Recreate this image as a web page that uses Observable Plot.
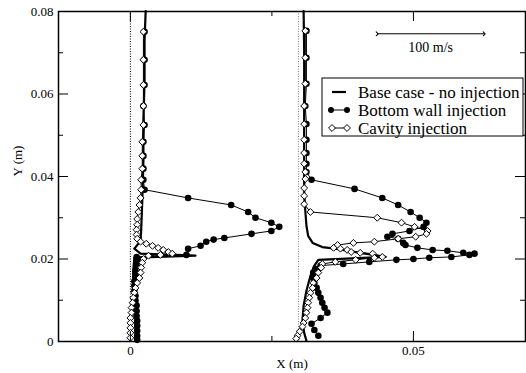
<!DOCTYPE html>
<html><head><meta charset="utf-8">
<script src="https://cdn.jsdelivr.net/npm/d3@7"></script>
<script src="https://cdn.jsdelivr.net/npm/@observablehq/plot@0.6"></script>
<style>body{margin:0;background:#fff} svg{display:block} svg text{font-family:"Liberation Serif", "DejaVu Serif", serif !important;}</style>
</head><body><div id="chart"></div>
<script>
// Station reference positions (m)
const stations = [0, 0.0297];
const seriesNames = ["Base case - no injection", "Bottom wall injection", "Cavity injection"];
const xTickLabels = [0, 0.05];
const xMinorTicks = [0.025];
const yTickLabels = [0, 0.02, 0.04, 0.06, 0.08];
const yMinorTicks = [0.01, 0.03, 0.05, 0.07];
const scaleBar = {x1: 0.0436, x2: 0.0625, y: 0.0746, label: "100 m/s"};

// Station 1 (X = 0) profiles: [X (m), Y (m)]
const base1 = [[0.0027,0.0801],[0.0025,0.0729],[0.0025,0.0632],[0.0023,0.0535],[0.0023,0.0438],[0.0021,0.0341],[0.0019,0.0268],[0.0018,0.0244],[0.0007,0.0225],[0.0018,0.0213],[0.0115,0.0208],[0.0007,0.0203],[0.0005,0.0171],[0.0005,0.0123],[0.0007,0.0074],[0.0009,0.0038],[0.0009,0.0002]];
const bottom1 = [[0.0025,0.0751],[0.0025,0.0683],[0.0025,0.0622],[0.0023,0.0571],[0.0025,0.0525],[0.0023,0.0484],[0.0023,0.0450],[0.0023,0.0419],[0.0023,0.0392],[0.0025,0.0368],[0.0102,0.0348],[0.0178,0.0331],[0.0208,0.0314],[0.0221,0.0300],[0.0249,0.0288],[0.0263,0.0278],[0.0249,0.0268],[0.0214,0.0261],[0.0166,0.0251],[0.0147,0.0247],[0.0134,0.0242],[0.0124,0.0232],[0.0102,0.0225],[0.0099,0.0210],[0.0011,0.0205],[0.0012,0.0196],[0.0011,0.0184],[0.0009,0.0171],[0.0009,0.0159],[0.0007,0.0146],[0.0007,0.0135],[0.0007,0.0123],[0.0009,0.0111],[0.0009,0.0099],[0.0011,0.0087],[0.0011,0.0074],[0.0011,0.0062],[0.0012,0.0050],[0.0012,0.0038],[0.0012,0.0026],[0.0012,0.0014],[0.0012,0.0004]];
const cavity1 = [[0.0023,0.0751],[0.0023,0.0683],[0.0023,0.0622],[0.0023,0.0571],[0.0023,0.0525],[0.0021,0.0484],[0.0021,0.0450],[0.0021,0.0419],[0.0019,0.0392],[0.0019,0.0368],[0.0018,0.0348],[0.0016,0.0331],[0.0014,0.0314],[0.0012,0.0297],[0.0012,0.0283],[0.0011,0.0271],[0.0011,0.0259],[0.0012,0.0249],[0.0018,0.0242],[0.0028,0.0237],[0.0039,0.0232],[0.0049,0.0227],[0.0058,0.0222],[0.0067,0.0217],[0.0074,0.0213],[0.0053,0.0210],[0.0032,0.0208],[0.0023,0.0200],[0.0021,0.0191],[0.0019,0.0179],[0.0018,0.0167],[0.0016,0.0154],[0.0012,0.0142],[0.0009,0.0130],[0.0007,0.0118],[0.0005,0.0106],[0.0004,0.0094],[0.0002,0.0082],[0.0002,0.0070],[0.0000,0.0057],[0.0000,0.0045],[0.0000,0.0033],[0.0000,0.0021],[0.0000,0.0009]];

// Station 2 (X = 0.0297) profiles
const base2 = [[0.0306,0.0801],[0.0307,0.0705],[0.0307,0.0584],[0.0307,0.0462],[0.0307,0.0365],[0.0309,0.0317],[0.0311,0.0281],[0.0314,0.0256],[0.0322,0.0239],[0.0339,0.0229],[0.0362,0.0225],[0.0406,0.0215],[0.0451,0.0205],[0.0332,0.0198],[0.0325,0.0184],[0.0318,0.0159],[0.0311,0.0123],[0.0306,0.0087],[0.0304,0.0050],[0.0307,0.0021],[0.0311,0.0002]];
const bottom2 = [[0.0311,0.0753],[0.0311,0.0688],[0.0311,0.0625],[0.0309,0.0571],[0.0311,0.0527],[0.0311,0.0489],[0.0311,0.0457],[0.0311,0.0431],[0.0311,0.0411],[0.0320,0.0392],[0.0396,0.0370],[0.0445,0.0348],[0.0473,0.0331],[0.0495,0.0314],[0.0511,0.0300],[0.0523,0.0288],[0.0518,0.0278],[0.0493,0.0268],[0.0463,0.0261],[0.0454,0.0254],[0.0473,0.0249],[0.0482,0.0239],[0.0486,0.0234],[0.0507,0.0227],[0.0534,0.0222],[0.0560,0.0220],[0.0588,0.0215],[0.0608,0.0213],[0.0599,0.0210],[0.0567,0.0205],[0.0528,0.0203],[0.0500,0.0200],[0.0470,0.0198],[0.0422,0.0193],[0.0376,0.0188],[0.0336,0.0184],[0.0327,0.0176],[0.0323,0.0167],[0.0323,0.0154],[0.0325,0.0142],[0.0329,0.0130],[0.0332,0.0118],[0.0336,0.0106],[0.0339,0.0094],[0.0343,0.0082],[0.0348,0.0070],[0.0336,0.0057],[0.0320,0.0043],[0.0325,0.0028],[0.0332,0.0014]];
const cavity2 = [[0.0309,0.0753],[0.0309,0.0688],[0.0309,0.0625],[0.0307,0.0571],[0.0307,0.0527],[0.0307,0.0489],[0.0307,0.0457],[0.0307,0.0431],[0.0309,0.0411],[0.0309,0.0394],[0.0307,0.0372],[0.0307,0.0353],[0.0307,0.0333],[0.0318,0.0314],[0.0436,0.0300],[0.0479,0.0288],[0.0502,0.0278],[0.0525,0.0268],[0.0523,0.0261],[0.0504,0.0254],[0.0473,0.0249],[0.0431,0.0242],[0.0394,0.0239],[0.0366,0.0234],[0.0359,0.0227],[0.0371,0.0225],[0.0383,0.0222],[0.0390,0.0217],[0.0406,0.0215],[0.0428,0.0213],[0.0445,0.0205],[0.0431,0.0203],[0.0398,0.0198],[0.0362,0.0193],[0.0339,0.0188],[0.0337,0.0179],[0.0332,0.0167],[0.0329,0.0154],[0.0323,0.0142],[0.0322,0.0130],[0.0318,0.0118],[0.0316,0.0106],[0.0314,0.0094],[0.0313,0.0082],[0.0311,0.0070],[0.0309,0.0057],[0.0306,0.0045],[0.0304,0.0036],[0.0299,0.0024],[0.0295,0.0014],[0.0293,0.0007]];

const toRows = (arr, station) => arr.map(([x, y]) => ({x, y, station}));
const base = [...toRows(base1, 1), ...toRows(base2, 2)];
const bottom = [...toRows(bottom1, 1), ...toRows(bottom2, 2)];
const cavity = [...toRows(cavity1, 1), ...toRows(cavity2, 2)];

const W = 526, H = 373, ML = 58, MR = 1, MT = 11, MB = 32;
const PH = H - MT - MB, PW = W - ML - MR;
const fmt = d => String(+d.toFixed(2));
const SERIF = "Liberation Serif";

const chart = Plot.plot({
  width: W, height: H, marginLeft: ML, marginRight: MR, marginTop: MT, marginBottom: MB,
  style: `font-family: '${SERIF}', serif; font-size: 13px; background: #fff; color: #000;`,
  x: {domain: [-0.0127, 0.0698]},
  y: {domain: [0, 0.08]},
  marks: [
    Plot.ruleX([stations[0]], {stroke: "#000", strokeWidth: 1, strokeDasharray: "1,1.5"}),
    Plot.ruleX([stations[1]], {stroke: "#888", strokeWidth: 1, strokeDasharray: "1,1.5"}),
    Plot.line(base, {x: "x", y: "y", z: "station", stroke: "#000", strokeWidth: 2.2}),
    Plot.line(bottom, {x: "x", y: "y", z: "station", stroke: "#000", strokeWidth: 1}),
    Plot.dot(bottom, {x: "x", y: "y", r: 3.3, fill: "#000", stroke: "none"}),
    Plot.line(cavity, {x: "x", y: "y", z: "station", stroke: "#000", strokeWidth: 1}),
    Plot.dot(cavity, {x: "x", y: "y", symbol: "diamond2", r: 3.1, fill: "#fff", stroke: "#000", strokeWidth: 1}),
    // inward ticks, mirrored on all sides
    Plot.ruleX(xTickLabels, {insetTop: PH - 10, stroke: "#000"}),
    Plot.ruleX(xTickLabels, {insetBottom: PH - 10, stroke: "#000"}),
    Plot.ruleX(xMinorTicks, {insetTop: PH - 5, stroke: "#000"}),
    Plot.ruleX(xMinorTicks, {insetBottom: PH - 5, stroke: "#000"}),
    Plot.ruleY(yTickLabels, {insetRight: PW - 10, stroke: "#000"}),
    Plot.ruleY(yTickLabels, {insetLeft: PW - 10, stroke: "#000"}),
    Plot.ruleY(yMinorTicks, {insetRight: PW - 5, stroke: "#000"}),
    Plot.ruleY(yMinorTicks, {insetLeft: PW - 5, stroke: "#000"}),
    Plot.frame({stroke: "#000", strokeWidth: 1.5}),
    Plot.axisX(xTickLabels, {tickSize: 0, tickPadding: 4, tickFormat: fmt, label: null, fontSize: 13, fontFamily: SERIF}),
    Plot.axisY(yTickLabels, {tickSize: 0, tickPadding: 5, tickFormat: fmt, label: null, fontSize: 13, fontFamily: SERIF}),
    Plot.text(["X (m)"], {frameAnchor: "bottom", dy: 22, fontSize: 13, lineAnchor: "middle", fontFamily: SERIF}),
    Plot.text(["Y (m)"], {frameAnchor: "left", dx: -41, rotate: -90, fontSize: 13, lineAnchor: "middle", fontFamily: SERIF}),
    // velocity scale bar
    Plot.link([scaleBar], {x1: "x1", x2: "x2", y1: "y", y2: "y", stroke: "#000", strokeWidth: 1, markerStart: "arrow", markerEnd: "arrow"}),
    Plot.text([scaleBar], {x: d => (d.x1 + d.x2) / 2, y: "y", text: "label", dy: 14, fontSize: 14, lineAnchor: "middle", fontFamily: SERIF})
  ]
});
document.getElementById("chart").appendChild(chart);

// Legend box
const svg = d3.select(chart);
const lg = svg.append("g").attr("text-anchor", "start");
const bx = 322, by = 78, bw = 201, bh = 58;
lg.append("rect").attr("x", bx).attr("y", by).attr("width", bw).attr("height", bh)
  .attr("fill", "#fff").attr("stroke", "#000").attr("stroke-width", 1);
const rowsY = [92, 110, 128];
lg.append("line").attr("x1", 332).attr("x2", 346).attr("y1", rowsY[0]).attr("y2", rowsY[0]).attr("stroke", "#000").attr("stroke-width", 2.2);
lg.append("line").attr("x1", 331).attr("x2", 347).attr("y1", rowsY[1]).attr("y2", rowsY[1]).attr("stroke", "#000");
[331, 347].forEach(cx => lg.append("circle").attr("cx", cx).attr("cy", rowsY[1]).attr("r", 3).attr("fill", "#000"));
lg.append("line").attr("x1", 332).attr("x2", 347).attr("y1", rowsY[2]).attr("y2", rowsY[2]).attr("stroke", "#000");
[332, 347].forEach(cx => lg.append("path").attr("d", d3.symbol(d3.symbolDiamond2, Math.PI * 3.1 * 3.1)()).attr("transform", `translate(${cx},${rowsY[2]})`).attr("fill", "#fff").attr("stroke", "#000"));
seriesNames.forEach((name, i) => lg.append("text").attr("x", 358).attr("y", rowsY[i]).attr("dy", "0.35em")
  .style("font-size", "17px").style("font-family", SERIF).text(name));
</script></body></html>
